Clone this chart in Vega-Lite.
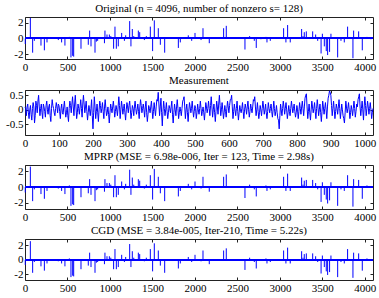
{
  "$schema": "https://vega.github.io/schema/vega-lite/v6.json",
  "padding": {"left": 4, "top": 2, "right": 5, "bottom": 2},
  "background": "white",
  "config": {
    "font": "Liberation Serif",
    "view": {"stroke": "#222", "strokeWidth": 1},
    "concat": {"spacing": 1},
    "title": {"font": "Liberation Serif", "fontSize": 11, "fontWeight": "normal", "color": "#000", "offset": 3},
    "axis": {
      "grid": false, "domain": false, "ticks": true, "tickSize": -3, "tickColor": "#222",
      "labelFont": "Liberation Serif", "labelFontSize": 11, "labelColor": "#000", "labelPadding": 5,
      "title": null, "labelExpr": "toString(datum.value)", "labelFlush": false, "labelOverlap": false
    },
    "axisY": {"minExtent": 20, "maxExtent": 20}
  },
  "datasets": {
    "spikes": [
      {"idx":3,"val":-0.7},{"idx":63,"val":2.6},{"idx":90,"val":-1.8},{"idx":110,"val":-0.3},{"idx":188,"val":-0.9},{"idx":228,"val":-1.5},{"idx":259,"val":-0.5},{"idx":392,"val":-0.2},{"idx":431,"val":-0.5},{"idx":470,"val":-0.9},{"idx":522,"val":0.2},{"idx":541,"val":-2.4},{"idx":561,"val":-2.2},{"idx":573,"val":-2.3},{"idx":659,"val":-1.3},{"idx":745,"val":-0.8},{"idx":761,"val":1.0},{"idx":777,"val":-1.0},{"idx":824,"val":-1.8},{"idx":840,"val":-0.4},{"idx":855,"val":-0.3},{"idx":935,"val":-0.6},{"idx":941,"val":1.0},{"idx":965,"val":0.5},{"idx":993,"val":0.5},{"idx":1010,"val":0.3},{"idx":1043,"val":-1.3},{"idx":1059,"val":1.5},{"idx":1075,"val":-1.3},{"idx":1098,"val":-1.0},{"idx":1138,"val":0.7},{"idx":1170,"val":-0.3},{"idx":1185,"val":0.4},{"idx":1232,"val":2.2},{"idx":1247,"val":-1.0},{"idx":1263,"val":1.2},{"idx":1280,"val":0.3},{"idx":1334,"val":1.0},{"idx":1350,"val":0.8},{"idx":1405,"val":-0.2},{"idx":1428,"val":0.3},{"idx":1475,"val":1.5},{"idx":1502,"val":-1.6},{"idx":1522,"val":2.3},{"idx":1569,"val":1.3},{"idx":1593,"val":-0.8},{"idx":1644,"val":-1.8},{"idx":1805,"val":-1.2},{"idx":1828,"val":-0.5},{"idx":1922,"val":0.4},{"idx":1962,"val":-0.3},{"idx":2001,"val":0.7},{"idx":2072,"val":-0.2},{"idx":2095,"val":1.3},{"idx":2169,"val":-0.6},{"idx":2338,"val":1.3},{"idx":2369,"val":1.6},{"idx":2463,"val":0.1},{"idx":2589,"val":-1.4},{"idx":2644,"val":0.3},{"idx":2699,"val":-0.3},{"idx":2722,"val":-1.2},{"idx":2777,"val":-0.1},{"idx":2836,"val":0.2},{"idx":2848,"val":-0.5},{"idx":2887,"val":-0.3},{"idx":3044,"val":1.3},{"idx":3071,"val":-0.5},{"idx":3091,"val":1.7},{"idx":3122,"val":-0.5},{"idx":3256,"val":1.2},{"idx":3272,"val":0.3},{"idx":3287,"val":0.8},{"idx":3311,"val":0.9},{"idx":3386,"val":0.9},{"idx":3421,"val":0.5},{"idx":3445,"val":-0.3},{"idx":3485,"val":-1.9},{"idx":3500,"val":0.6},{"idx":3523,"val":-1.0},{"idx":3546,"val":-1.6},{"idx":3562,"val":-2.1},{"idx":3585,"val":-1.7},{"idx":3601,"val":0.6},{"idx":3680,"val":-2.4},{"idx":3719,"val":-0.3},{"idx":3758,"val":-0.5},{"idx":3797,"val":1.5},{"idx":3860,"val":-2.5},{"idx":3868,"val":1.0},{"idx":3927,"val":0.9},{"idx":3970,"val":-1.5},{"idx":4025,"val":0.2},{"idx":4072,"val":-0.1}
    ],
    "meas": [
      {"t":0,"m":0.1},{"t":4,"m":-0.2},{"t":8,"m":0.2},{"t":12,"m":-0.3},{"t":16,"m":0.15},{"t":20,"m":-0.35},{"t":24,"m":0.25},{"t":28,"m":-0.45},{"t":32,"m":0.3},{"t":36,"m":-0.1},{"t":40,"m":0.5},{"t":44,"m":-0.2},{"t":48,"m":0.2},{"t":52,"m":-0.3},{"t":56,"m":0.1},{"t":60,"m":-0.25},{"t":64,"m":0.3},{"t":68,"m":-0.15},{"t":72,"m":0.2},{"t":76,"m":-0.4},{"t":80,"m":0.35},{"t":84,"m":0.05},{"t":88,"m":-0.2},{"t":92,"m":0.25},{"t":96,"m":-0.1},{"t":100,"m":0.15},{"t":104,"m":-0.3},{"t":108,"m":0.2},{"t":112,"m":-0.15},{"t":116,"m":0.3},{"t":120,"m":-0.25},{"t":124,"m":0.1},{"t":128,"m":-0.4},{"t":132,"m":0.3},{"t":136,"m":-0.1},{"t":140,"m":0.45},{"t":144,"m":-0.2},{"t":148,"m":0.5},{"t":152,"m":-0.3},{"t":156,"m":0.2},{"t":160,"m":-0.15},{"t":164,"m":0.35},{"t":168,"m":-0.25},{"t":172,"m":0.5},{"t":176,"m":-0.1},{"t":180,"m":0.3},{"t":184,"m":-0.35},{"t":188,"m":0.15},{"t":192,"m":-0.2},{"t":196,"m":0.35},{"t":200,"m":-0.65},{"t":204,"m":0.45},{"t":208,"m":-0.3},{"t":212,"m":0.2},{"t":216,"m":-0.4},{"t":220,"m":0.3},{"t":224,"m":-0.1},{"t":228,"m":0.25},{"t":232,"m":-0.3},{"t":236,"m":0.35},{"t":240,"m":-0.2},{"t":244,"m":0.1},{"t":248,"m":-0.45},{"t":252,"m":0.2},{"t":256,"m":-0.1},{"t":260,"m":0.3},{"t":264,"m":-0.25},{"t":268,"m":0.15},{"t":272,"m":-0.2},{"t":276,"m":0.45},{"t":280,"m":-0.3},{"t":284,"m":0.3},{"t":288,"m":-0.15},{"t":292,"m":0.2},{"t":296,"m":-0.35},{"t":300,"m":0.25},{"t":304,"m":-0.1},{"t":308,"m":0.3},{"t":312,"m":-0.3},{"t":316,"m":0.15},{"t":320,"m":-0.2},{"t":324,"m":0.3},{"t":328,"m":-0.15},{"t":332,"m":0.2},{"t":336,"m":-0.3},{"t":340,"m":0.35},{"t":344,"m":-0.1},{"t":348,"m":0.2},{"t":352,"m":-0.25},{"t":356,"m":0.3},{"t":360,"m":-0.4},{"t":364,"m":0.15},{"t":368,"m":-0.1},{"t":372,"m":0.3},{"t":376,"m":-0.3},{"t":380,"m":0.25},{"t":384,"m":-0.2},{"t":388,"m":0.35},{"t":392,"m":0.6},{"t":396,"m":-0.2},{"t":400,"m":0.4},{"t":404,"m":-0.55},{"t":408,"m":0.3},{"t":412,"m":-0.2},{"t":416,"m":0.25},{"t":420,"m":-0.3},{"t":424,"m":0.15},{"t":428,"m":-0.1},{"t":432,"m":0.3},{"t":436,"m":-0.45},{"t":440,"m":0.2},{"t":444,"m":-0.2},{"t":448,"m":0.35},{"t":452,"m":-0.3},{"t":456,"m":0.1},{"t":460,"m":-0.2},{"t":464,"m":0.3},{"t":468,"m":0.45},{"t":472,"m":-0.3},{"t":476,"m":0.2},{"t":480,"m":-0.4},{"t":484,"m":0.25},{"t":488,"m":-0.1},{"t":492,"m":0.3},{"t":496,"m":-0.25},{"t":500,"m":0.15},{"t":504,"m":-0.3},{"t":508,"m":0.2},{"t":512,"m":-0.15},{"t":516,"m":0.3},{"t":520,"m":-0.2},{"t":524,"m":0.1},{"t":528,"m":-0.35},{"t":532,"m":0.25},{"t":536,"m":-0.1},{"t":540,"m":0.3},{"t":544,"m":-0.2},{"t":548,"m":0.45},{"t":552,"m":-0.25},{"t":556,"m":0.2},{"t":560,"m":-0.4},{"t":564,"m":0.3},{"t":568,"m":-0.15},{"t":572,"m":0.5},{"t":576,"m":-0.2},{"t":580,"m":0.25},{"t":584,"m":-0.3},{"t":588,"m":0.15},{"t":592,"m":-0.25},{"t":596,"m":0.3},{"t":600,"m":-0.1},{"t":604,"m":0.35},{"t":608,"m":0.5},{"t":612,"m":-0.3},{"t":616,"m":0.2},{"t":620,"m":-0.2},{"t":624,"m":0.3},{"t":628,"m":-0.35},{"t":632,"m":0.15},{"t":636,"m":-0.1},{"t":640,"m":0.25},{"t":644,"m":-0.3},{"t":648,"m":0.2},{"t":652,"m":-0.15},{"t":656,"m":0.3},{"t":660,"m":-0.25},{"t":664,"m":0.2},{"t":668,"m":-0.1},{"t":672,"m":0.35},{"t":676,"m":0.45},{"t":680,"m":-0.2},{"t":684,"m":0.25},{"t":688,"m":-0.3},{"t":692,"m":0.15},{"t":696,"m":-0.2},{"t":700,"m":0.3},{"t":704,"m":-0.15},{"t":708,"m":0.2},{"t":712,"m":-0.3},{"t":716,"m":0.25},{"t":720,"m":-0.1},{"t":724,"m":0.2},{"t":728,"m":-0.25},{"t":732,"m":0.3},{"t":736,"m":-0.2},{"t":740,"m":0.15},{"t":744,"m":-0.3},{"t":748,"m":-0.65},{"t":752,"m":0.2},{"t":756,"m":-0.2},{"t":760,"m":0.3},{"t":764,"m":-0.15},{"t":768,"m":0.25},{"t":772,"m":-0.3},{"t":776,"m":0.15},{"t":780,"m":-0.2},{"t":784,"m":0.3},{"t":788,"m":-0.1},{"t":792,"m":0.2},{"t":796,"m":-0.25},{"t":800,"m":0.15},{"t":804,"m":-0.3},{"t":808,"m":0.25},{"t":812,"m":-0.15},{"t":816,"m":0.3},{"t":820,"m":-0.2},{"t":824,"m":0.4},{"t":828,"m":0.55},{"t":832,"m":-0.3},{"t":836,"m":0.2},{"t":840,"m":-0.35},{"t":844,"m":0.3},{"t":848,"m":-0.1},{"t":852,"m":0.25},{"t":856,"m":-0.3},{"t":860,"m":0.35},{"t":864,"m":-0.2},{"t":868,"m":0.2},{"t":872,"m":-0.4},{"t":876,"m":0.3},{"t":880,"m":-0.15},{"t":884,"m":0.25},{"t":888,"m":-0.3},{"t":892,"m":0.4},{"t":896,"m":0.65},{"t":900,"m":0.5},{"t":904,"m":-0.2},{"t":908,"m":0.3},{"t":912,"m":-0.3},{"t":916,"m":0.2},{"t":920,"m":-0.15},{"t":924,"m":0.35},{"t":928,"m":-0.3},{"t":932,"m":0.2},{"t":936,"m":-0.2},{"t":940,"m":-0.45},{"t":944,"m":0.3},{"t":948,"m":-0.1},{"t":952,"m":0.25},{"t":956,"m":-0.3},{"t":960,"m":0.15},{"t":964,"m":-0.2},{"t":968,"m":0.3},{"t":972,"m":-0.25},{"t":976,"m":0.2},{"t":980,"m":0.35},{"t":984,"m":0.55},{"t":988,"m":-0.2},{"t":992,"m":0.3},{"t":996,"m":-0.35},{"t":1000,"m":0.45},{"t":1004,"m":-0.2},{"t":1008,"m":0.3},{"t":1012,"m":-0.15},{"t":1016,"m":0.25},{"t":1020,"m":-0.3},{"t":1024,"m":0.05},
      {"t":2,"m":0.05},{"t":6,"m":0.1},{"t":10,"m":-0.1},{"t":14,"m":0.0},{"t":18,"m":-0.15},{"t":22,"m":0.05},{"t":26,"m":0.1},{"t":30,"m":-0.2},{"t":34,"m":0.15},{"t":38,"m":0.3},{"t":42,"m":0.1},{"t":46,"m":0.05},{"t":50,"m":-0.1},{"t":54,"m":0.2},{"t":58,"m":-0.05},{"t":62,"m":0.15},{"t":66,"m":0.0},{"t":70,"m":0.1},{"t":74,"m":-0.2},{"t":78,"m":0.05},{"t":82,"m":0.15},{"t":86,"m":-0.1},{"t":90,"m":0.05},{"t":94,"m":0.1},{"t":98,"m":0.2},{"t":102,"m":-0.05},{"t":106,"m":0.05},{"t":110,"m":-0.1},{"t":114,"m":0.1},{"t":118,"m":0.0},{"t":122,"m":-0.1},{"t":126,"m":-0.2},{"t":130,"m":0.05},{"t":134,"m":0.15},{"t":138,"m":0.2},{"t":142,"m":0.1},{"t":146,"m":0.2},{"t":150,"m":0.1},{"t":154,"m":-0.1},{"t":158,"m":0.05},{"t":162,"m":0.1},{"t":166,"m":0.05},{"t":170,"m":0.2},{"t":174,"m":0.2},{"t":178,"m":0.1},{"t":182,"m":-0.05},{"t":186,"m":-0.1},{"t":190,"m":0.0},{"t":194,"m":0.05},{"t":198,"m":-0.2},{"t":202,"m":-0.1},{"t":206,"m":0.1},{"t":210,"m":-0.05},{"t":214,"m":-0.1},{"t":218,"m":0.0},{"t":222,"m":0.15},{"t":226,"m":0.05},{"t":230,"m":-0.05},{"t":234,"m":0.1},{"t":238,"m":0.05},{"t":242,"m":-0.1},{"t":246,"m":-0.15},{"t":250,"m":-0.1},{"t":254,"m":0.05},{"t":258,"m":0.1},{"t":262,"m":0.05},{"t":266,"m":-0.05},{"t":270,"m":0.0},{"t":274,"m":0.1},{"t":278,"m":0.15},{"t":282,"m":0.0},{"t":286,"m":0.1},{"t":290,"m":0.05},{"t":294,"m":-0.1},{"t":298,"m":0.0},{"t":302,"m":0.1},{"t":306,"m":0.15},{"t":310,"m":0.0},{"t":314,"m":-0.1},{"t":318,"m":0.05},{"t":322,"m":0.1},{"t":326,"m":0.05},{"t":330,"m":0.0},{"t":334,"m":-0.05},{"t":338,"m":0.1},{"t":342,"m":0.15},{"t":346,"m":0.05},{"t":350,"m":0.0},{"t":354,"m":0.1},{"t":358,"m":-0.1},{"t":362,"m":-0.15},{"t":366,"m":0.05},{"t":370,"m":0.1},{"t":374,"m":0.0},{"t":378,"m":-0.05},{"t":382,"m":0.0},{"t":386,"m":0.1},{"t":390,"m":0.3},{"t":394,"m":0.2},{"t":398,"m":0.1},{"t":402,"m":-0.1},{"t":406,"m":-0.05},{"t":410,"m":0.05},{"t":414,"m":0.0},{"t":418,"m":-0.05},{"t":422,"m":-0.1},{"t":426,"m":0.05},{"t":430,"m":0.1},{"t":434,"m":-0.15},{"t":438,"m":-0.1},{"t":442,"m":0.0},{"t":446,"m":0.1},{"t":450,"m":0.05},{"t":454,"m":-0.1},{"t":458,"m":-0.05},{"t":462,"m":0.05},{"t":466,"m":0.35},{"t":470,"m":0.1},{"t":474,"m":0.0},{"t":478,"m":-0.1},{"t":482,"m":-0.05},{"t":486,"m":0.1},{"t":490,"m":0.05},{"t":494,"m":0.0},{"t":498,"m":-0.05},{"t":502,"m":0.05},{"t":506,"m":-0.1},{"t":510,"m":0.0},{"t":514,"m":0.05},{"t":518,"m":0.05},{"t":522,"m":-0.05},{"t":526,"m":-0.1},{"t":530,"m":-0.05},{"t":534,"m":0.1},{"t":538,"m":0.05},{"t":542,"m":0.05},{"t":546,"m":0.15},{"t":550,"m":0.1},{"t":554,"m":0.0},{"t":558,"m":-0.1},{"t":562,"m":-0.05},{"t":566,"m":0.1},{"t":570,"m":0.2},{"t":574,"m":0.15},{"t":578,"m":0.0},{"t":582,"m":0.0},{"t":586,"m":-0.1},{"t":590,"m":-0.05},{"t":594,"m":0.05},{"t":598,"m":0.1},{"t":602,"m":0.15},{"t":606,"m":0.35},{"t":610,"m":0.1},{"t":614,"m":-0.05},{"t":618,"m":0.0},{"t":622,"m":0.05},{"t":626,"m":-0.05},{"t":630,"m":-0.1},{"t":634,"m":0.0},{"t":638,"m":0.05},{"t":642,"m":-0.05},{"t":646,"m":0.0},{"t":650,"m":0.05},{"t":654,"m":0.1},{"t":658,"m":0.0},{"t":662,"m":-0.05},{"t":666,"m":0.05},{"t":670,"m":0.1},{"t":674,"m":0.3},{"t":678,"m":0.1},{"t":682,"m":0.0},{"t":686,"m":-0.05},{"t":690,"m":-0.1},{"t":694,"m":0.0},{"t":698,"m":0.05},{"t":702,"m":0.1},{"t":706,"m":0.0},{"t":710,"m":-0.1},{"t":714,"m":-0.05},{"t":718,"m":0.05},{"t":722,"m":0.05},{"t":726,"m":-0.05},{"t":730,"m":0.0},{"t":734,"m":0.05},{"t":738,"m":-0.05},{"t":742,"m":-0.1},{"t":746,"m":-0.35},{"t":750,"m":-0.2},{"t":754,"m":0.0},{"t":758,"m":0.05},{"t":762,"m":0.1},{"t":766,"m":0.05},{"t":770,"m":0.0},{"t":774,"m":-0.1},{"t":778,"m":-0.05},{"t":782,"m":0.05},{"t":786,"m":0.1},{"t":790,"m":0.05},{"t":794,"m":-0.05},{"t":798,"m":-0.1},{"t":802,"m":0.0},{"t":806,"m":-0.05},{"t":810,"m":0.05},{"t":814,"m":0.1},{"t":818,"m":0.05},{"t":822,"m":0.1},{"t":826,"m":0.5},{"t":830,"m":0.1},{"t":834,"m":-0.05},{"t":838,"m":-0.1},{"t":842,"m":0.0},{"t":846,"m":0.1},{"t":850,"m":0.05},{"t":854,"m":-0.05},{"t":858,"m":0.05},{"t":862,"m":0.1},{"t":866,"m":0.0},{"t":870,"m":-0.1},{"t":874,"m":-0.05},{"t":878,"m":0.1},{"t":882,"m":0.05},{"t":886,"m":0.0},{"t":890,"m":0.1},{"t":894,"m":0.5},{"t":898,"m":0.6},{"t":902,"m":0.15},{"t":906,"m":0.05},{"t":910,"m":0.0},{"t":914,"m":-0.05},{"t":918,"m":0.05},{"t":922,"m":0.1},{"t":926,"m":0.05},{"t":930,"m":-0.05},{"t":934,"m":0.0},{"t":938,"m":-0.3},{"t":942,"m":-0.1},{"t":946,"m":0.1},{"t":950,"m":0.05},{"t":954,"m":0.0},{"t":958,"m":-0.1},{"t":962,"m":0.0},{"t":966,"m":0.05},{"t":970,"m":0.05},{"t":974,"m":-0.05},{"t":978,"m":0.1},{"t":982,"m":0.45},{"t":986,"m":0.1},{"t":990,"m":0.05},{"t":994,"m":0.0},{"t":998,"m":0.1},{"t":1002,"m":0.15},{"t":1006,"m":0.05},{"t":1010,"m":0.1},{"t":1014,"m":0.05},{"t":1018,"m":0.0},{"t":1022,"m":-0.1}
    ]
  },
  "vconcat": [
    {
      "title": "Original (n = 4096, number of nonzero s= 128)",
      "width": 348, "height": 42,
      "data": {"name": "spikes"},
      "layer": [
        {"mark": {"type": "rule", "color": "#0000ff", "strokeWidth": 1},
         "encoding": {
           "x": {"datum": 0, "type": "quantitative", "scale": {"domain": [0, 4096], "nice": false}, "axis": {"orient": "bottom", "values": [0,500,1000,1500,2000,2500,3000,3500,4000]}},
           "x2": {"datum": 4096},
           "y": {"datum": 0, "type": "quantitative", "scale": {"domain": [-2.6, 2.72], "nice": false, "zero": false}, "axis": {"orient": "left", "values": [-2,0,2]}}}},
        {"mark": {"type": "rule", "color": "#0000ff", "strokeWidth": 1},
         "encoding": {"x": {"field": "idx", "type": "quantitative", "axis": null}, "y": {"field": "val", "type": "quantitative", "axis": null}, "y2": {"datum": 0}}},
        {"mark": {"type": "rule", "opacity": 0},
         "encoding": {"x": {"field": "idx", "type": "quantitative", "axis": {"orient": "top", "labels": false, "values": [0,500,1000,1500,2000,2500,3000,3500,4000], "minExtent": 0, "maxExtent": 0}}, "y": {"field": "val", "type": "quantitative", "axis": {"orient": "right", "labels": false, "values": [-2,0,2], "minExtent": 0, "maxExtent": 0}}}}
      ],
      "resolve": {"axis": {"x": "independent", "y": "independent"}}
    },
    {
      "title": "Measurement",
      "width": 348, "height": 45,
      "data": {"name": "meas"},
      "layer": [
        {"mark": {"type": "line", "color": "#0000ff", "strokeWidth": 1},
         "encoding": {
           "x": {"field": "t", "type": "quantitative", "scale": {"domain": [0, 1024], "nice": false}, "axis": {"orient": "bottom", "values": [0,100,200,300,400,500,600,700,800,900,1000]}},
           "y": {"field": "m", "type": "quantitative", "scale": {"domain": [-0.86, 0.68], "nice": false, "zero": false}, "axis": {"orient": "left", "values": [-0.5,0,0.5]}}}},
        {"mark": {"type": "rule", "opacity": 0},
         "encoding": {"x": {"field": "t", "type": "quantitative", "axis": {"orient": "top", "labels": false, "values": [0,100,200,300,400,500,600,700,800,900,1000], "minExtent": 0, "maxExtent": 0}}, "y": {"field": "m", "type": "quantitative", "axis": {"orient": "right", "labels": false, "values": [-0.5,0,0.5], "minExtent": 0, "maxExtent": 0}}}}
      ],
      "resolve": {"axis": {"x": "independent", "y": "independent"}}
    },
    {
      "title": "MPRP (MSE = 6.98e-006, Iter = 123, Time = 2.98s)",
      "width": 348, "height": 44,
      "data": {"name": "spikes"},
      "layer": [
        {"mark": {"type": "rule", "color": "#0000ff", "strokeWidth": 1},
         "encoding": {
           "x": {"datum": 0, "type": "quantitative", "scale": {"domain": [0, 4096], "nice": false}, "axis": {"orient": "bottom", "values": [0,500,1000,1500,2000,2500,3000,3500,4000]}},
           "x2": {"datum": 4096},
           "y": {"datum": 0, "type": "quantitative", "scale": {"domain": [-2.8, 2.8], "nice": false, "zero": false}, "axis": {"orient": "left", "values": [-2,0,2]}}}},
        {"mark": {"type": "rule", "color": "#0000ff", "strokeWidth": 1},
         "encoding": {"x": {"field": "idx", "type": "quantitative", "axis": null}, "y": {"field": "val", "type": "quantitative", "axis": null}, "y2": {"datum": 0}}},
        {"mark": {"type": "rule", "opacity": 0},
         "encoding": {"x": {"field": "idx", "type": "quantitative", "axis": {"orient": "top", "labels": false, "values": [0,500,1000,1500,2000,2500,3000,3500,4000], "minExtent": 0, "maxExtent": 0}}, "y": {"field": "val", "type": "quantitative", "axis": {"orient": "right", "labels": false, "values": [-2,0,2], "minExtent": 0, "maxExtent": 0}}}}
      ],
      "resolve": {"axis": {"x": "independent", "y": "independent"}}
    },
    {
      "title": "CGD (MSE = 3.84e-005, Iter-210, Time = 5.22s)",
      "width": 348, "height": 41,
      "data": {"name": "spikes"},
      "layer": [
        {"mark": {"type": "rule", "color": "#0000ff", "strokeWidth": 1},
         "encoding": {
           "x": {"datum": 0, "type": "quantitative", "scale": {"domain": [0, 4096], "nice": false}, "axis": {"orient": "bottom", "values": [0,500,1000,1500,2000,2500,3000,3500,4000]}},
           "x2": {"datum": 4096},
           "y": {"datum": 0, "type": "quantitative", "scale": {"domain": [-2.8, 2.9], "nice": false, "zero": false}, "axis": {"orient": "left", "values": [-2,0,2]}}}},
        {"mark": {"type": "rule", "color": "#0000ff", "strokeWidth": 1},
         "encoding": {"x": {"field": "idx", "type": "quantitative", "axis": null}, "y": {"field": "val", "type": "quantitative", "axis": null}, "y2": {"datum": 0}}},
        {"mark": {"type": "rule", "opacity": 0},
         "encoding": {"x": {"field": "idx", "type": "quantitative", "axis": {"orient": "top", "labels": false, "values": [0,500,1000,1500,2000,2500,3000,3500,4000], "minExtent": 0, "maxExtent": 0}}, "y": {"field": "val", "type": "quantitative", "axis": {"orient": "right", "labels": false, "values": [-2,0,2], "minExtent": 0, "maxExtent": 0}}}}
      ],
      "resolve": {"axis": {"x": "independent", "y": "independent"}}
    }
  ]
}
